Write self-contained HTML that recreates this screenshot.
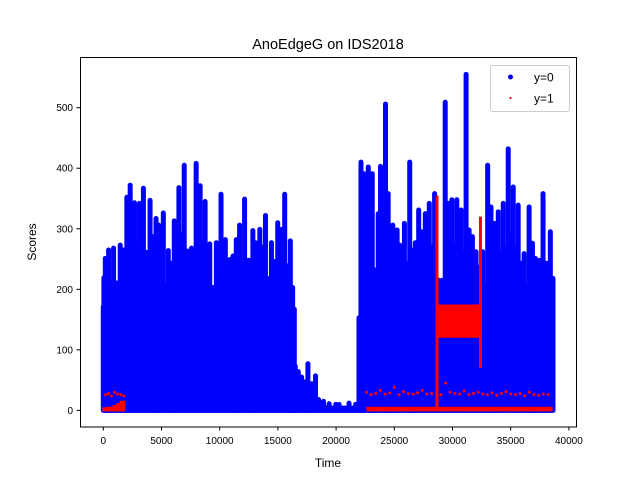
<!DOCTYPE html>
<html><head><meta charset="utf-8">
<style>
html,body{margin:0;padding:0;background:#fff;}
svg{display:block;font-family:"Liberation Sans","DejaVu Sans",sans-serif;}
</style></head>
<body>
<svg id="chart" width="640" height="480" viewBox="0 0 640 480" xmlns="http://www.w3.org/2000/svg">
<rect width="640" height="480" fill="#fff"/>
<text x="328" y="49" text-anchor="middle" font-size="14.5">AnoEdgeG on IDS2018</text>
<g id="plot"></g>
<rect x="80.5" y="57.5" width="496" height="369.5" fill="none" stroke="#000" stroke-width="1"/>
<g id="xaxis"></g>
<g id="yaxis"></g>
<text x="328" y="467" text-anchor="middle" font-size="12">Time</text>
<text transform="translate(36,242) rotate(-90)" text-anchor="middle" font-size="12">Scores</text>
<g>
<rect x="490.5" y="65.5" width="79" height="46" rx="2" fill="#fff" fill-opacity="0.8" stroke="#ccc"/>
<circle cx="510.5" cy="77" r="2.5" fill="#00f"/>
<text x="534" y="81.5" font-size="12">y=0</text>
<circle cx="510.5" cy="98" r="1.1" fill="#f00"/>
<text x="534" y="102.5" font-size="12">y=1</text>
</g>
</svg>
<script>
// ---- data ----
const blueTimes = [0,50,171,456,883,1453,1738,2023,2308,2678,3105,3447,3732,4017,4245,4530,4758,5157,5584,5869,6097,6496,6951,7236,7578,7977,8319,8746,9145,9430,9715,10114,10484,10855,11140,11425,11709,12137,12479,12849,13077,13447,13647,13932,14444,14701,14986,15328,15584,15897,16068,16268,16410,16496,16752,17037,17322,17578,17892,18233,18490,18917,19402,19972,20256,21111,21681,21966,22137,22393,22764,23106,23333,23618,23818,24245,24473,24672,24872,25242,25470,25869,26325,26524,26809,27094,27322,27664,28006,28462,28803,29088,29373,29658,29943,30370,30741,31168,31425,31710,32023,32365,32593,33020,33305,33590,33932,34359,34787,35214,35641,35926,36154,36581,36866,37123,37493,37778,38063,38405,38633];
const blueScores = [171,219,251,265,268,273,265,352,372,343,342,367,261,347,287,317,306,326,264,243,313,368,405,263,268,408,371,345,275,203,277,357,282,249,255,282,306,349,248,297,277,299,270,322,277,246,310,299,357,239,280,203,167,73,64,55,47,77,44,57,18,15,11,10,10,12,10,153,410,391,402,391,232,325,403,506,358,284,306,298,273,309,410,265,277,331,295,325,342,358,215,215,509,342,348,348,331,555,298,287,262,237,262,405,336,309,328,342,432,369,339,243,259,336,276,251,248,358,243,295,218];
const redLeftTimes = [0,300,600,900,1200,1500,1800];
const redLeftScores = [5,6,6,9,12,16,14];
const redDotTimes = [200,450,700,950,1200,1500,1750,22600,23000,23400,23800,24200,24600,25000,25400,25800,26200,26600,27000,27400,27800,28200,29000,29400,29800,30200,30600,31000,31400,31800,32200,32600,33000,33400,33800,34200,34600,35000,35400,35800,36200,36600,37000,37400,37800,38200];
const redDotScores = [26,28,24,30,27,26,24,30,26,28,33,27,29,38,26,31,28,27,29,33,27,28,26,45,30,28,27,32,26,28,30,27,26,29,25,28,31,27,26,28,24,30,26,25,27,26];
const redBaseStart = 22600, redBaseEnd = 38600, redBaseScore = 6;
const redBandStart = 28668, redBandEnd = 32535, redBandLow = 120, redBandHigh = 175;
const redSpikeTimes = [28668, 32400];
const redSpikeTops = [355, 320];
const redSpikeBottoms = [0, 70];
const xTicks = [0,5000,10000,15000,20000,25000,30000,35000,40000];
const yTicks = [0,100,200,300,400,500];

// ---- axes ----
const X = t => 103.3 + t * 0.01164;
const Y = v => 410.4 - v * 0.6054;
const NS = "http://www.w3.org/2000/svg";
const plot = document.getElementById('plot');
function mk(tag, attrs, parent) {
  const el = document.createElementNS(NS, tag);
  for (const k in attrs) el.setAttribute(k, attrs[k]);
  parent.appendChild(el);
  return el;
}
// blue fill between samples at the lower neighbour's height
for (let i = 0; i + 1 < blueTimes.length; i++) {
  const lo = Math.min(blueScores[i], blueScores[i + 1]) * 0.8;
  const r = mk('rect', {x: X(blueTimes[i]), y: Y(lo), width: X(blueTimes[i + 1]) - X(blueTimes[i]) + 0.5, height: Y(0) + 2.5 - Y(lo), fill: '#00f'}, plot);
  
  
}
// blue peaks: 5px columns
for (let i = 0; i < blueTimes.length; i++) {
  const yt = Y(blueScores[i]);
  const r = mk('rect', {x: X(blueTimes[i]) - 2.5, y: yt - 2.5, width: 5, height: Y(0) + 5 - yt, fill: '#00f', rx: 2.5}, plot);
  
  
}
// red left block
for (let i = 0; i < redLeftTimes.length - 1; i++) {
  const r = mk('rect', {x: X(redLeftTimes[i]) - 1, y: Y(redLeftScores[i]), width: X(redLeftTimes[i + 1]) - X(redLeftTimes[i]) + 2, height: Y(0) + 1 - Y(redLeftScores[i]), fill: '#f00'}, plot);
  
  
}
const rb = mk('rect', {x: X(redBaseStart), y: Y(redBaseScore), width: X(redBaseEnd) - X(redBaseStart), height: Y(0) + 1 - Y(redBaseScore), fill: '#f00'}, plot);


const band = mk('rect', {x: X(redBandStart), y: Y(redBandHigh), width: X(redBandEnd) - X(redBandStart), height: Y(redBandLow) - Y(redBandHigh), fill: '#f00'}, plot);


for (let i = 0; i < redSpikeTimes.length; i++) {
  const s = mk('line', {x1: X(redSpikeTimes[i]), x2: X(redSpikeTimes[i]), y1: Y(redSpikeTops[i]), y2: Y(redSpikeBottoms[i]), stroke: '#f00', 'stroke-width': 3}, plot);
  
  
}
for (let i = 0; i < redDotTimes.length; i++) {
  const c = mk('circle', {cx: X(redDotTimes[i]), cy: Y(redDotScores[i]), r: 1.5, fill: '#f00'}, plot);
  
  
}
const xa = document.getElementById('xaxis');
xTicks.forEach(t => {
  const l = mk('line', {x1: X(t), x2: X(t), y1: 427, y2: 430.5, stroke: '#000'}, xa);
  
  
  const tx = mk('text', {x: X(t), y: 444, 'text-anchor': 'middle', 'font-size': 10}, xa);
  tx.textContent = t;
  
  
});
const ya = document.getElementById('yaxis');
yTicks.forEach(v => {
  const l = mk('line', {x1: 76.5, x2: 80, y1: Y(v), y2: Y(v), stroke: '#000'}, ya);
  
  
  const tx = mk('text', {x: 73, y: Y(v) + 3.5, 'text-anchor': 'end', 'font-size': 10}, ya);
  tx.textContent = v;
  
  
});
</script>
</body></html>
